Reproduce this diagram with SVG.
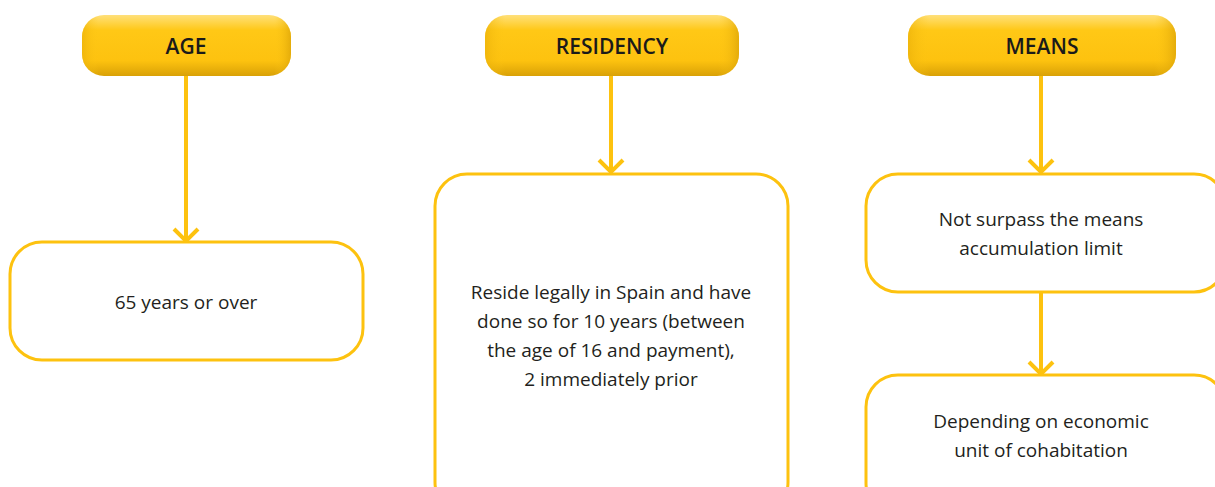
<svg xmlns="http://www.w3.org/2000/svg" width="1215" height="487" viewBox="0 0 1215 487">
<defs>
<linearGradient id="pill" x1="0" y1="0" x2="0" y2="1">
<stop offset="0" stop-color="#FFE07A"/>
<stop offset="0.25" stop-color="#FFC816"/>
<stop offset="0.75" stop-color="#FDC20F"/>
<stop offset="1" stop-color="#D9A107"/>
</linearGradient>
<linearGradient id="pillEdge" x1="0" y1="0" x2="1" y2="0">
<stop offset="0" stop-color="#E8AE08" stop-opacity="0.6"/>
<stop offset="0.08" stop-color="#FFC816" stop-opacity="0"/>
<stop offset="0.92" stop-color="#FFC816" stop-opacity="0"/>
<stop offset="1" stop-color="#D9A107" stop-opacity="0.7"/>
</linearGradient>
<marker id="chev" viewBox="-14 -14 28 28" markerWidth="28" markerHeight="28" refX="0" refY="0" orient="auto" markerUnits="userSpaceOnUse">
<polyline points="-12,-12 0,0 -12,12" fill="none" stroke="#FDC20F" stroke-width="4"/>
</marker>
</defs>
<style>
.pill{fill:url(#pill)}
.edge{fill:url(#pillEdge)}
.hd{font-family:"Open Sans","Noto Sans",sans-serif;font-size:21px;font-weight:600;fill:#1a1a1a;text-anchor:middle}
.box{fill:#fff;stroke:#FDC20F;stroke-width:3}
.tx{font-family:"Open Sans","Noto Sans",sans-serif;font-size:19px;fill:#231f20;text-anchor:middle}
.ln{stroke:#FDC20F;stroke-width:4;fill:none}
</style>
<rect width="1215" height="487" fill="#fff"/>
<g id="connectors">
<line class="ln" x1="186" y1="76" x2="186" y2="241" marker-end="url(#chev)"/>
<line class="ln" x1="611" y1="76" x2="611" y2="172" marker-end="url(#chev)"/>
<line class="ln" x1="1041" y1="76" x2="1041" y2="172" marker-end="url(#chev)"/>
<line class="ln" x1="1041" y1="292" x2="1041" y2="374" marker-end="url(#chev)"/>
</g>
<g id="age-header">
<rect class="pill" x="82" y="15" width="209" height="61" rx="22"/>
<rect class="edge" x="82" y="15" width="209" height="61" rx="22"/>
<text class="hd" x="186" y="54">AGE</text>
</g>
<g id="residency-header">
<rect class="pill" x="485" y="15" width="254" height="61" rx="22"/>
<rect class="edge" x="485" y="15" width="254" height="61" rx="22"/>
<text class="hd" x="612" y="54">RESIDENCY</text>
</g>
<g id="means-header">
<rect class="pill" x="908" y="15" width="268" height="61" rx="22"/>
<rect class="edge" x="908" y="15" width="268" height="61" rx="22"/>
<text class="hd" x="1042" y="54">MEANS</text>
</g>
<g id="age-box">
<rect class="box" x="10" y="242" width="353" height="118" rx="32"/>
<text class="tx" x="186" y="309">65 years or over</text>
</g>
<g id="residency-box">
<rect class="box" x="435" y="174" width="353" height="340" rx="32"/>
<text class="tx" x="611" y="299">Reside legally in Spain and have</text>
<text class="tx" x="611" y="328">done so for 10 years (between</text>
<text class="tx" x="611" y="357">the age of 16 and payment),</text>
<text class="tx" x="611" y="386">2 immediately prior</text>
</g>
<g id="means-box-1">
<rect class="box" x="866" y="174" width="360" height="118" rx="32"/>
<text class="tx" x="1041" y="226">Not surpass the means</text>
<text class="tx" x="1041" y="255">accumulation limit</text>
</g>
<g id="means-box-2">
<rect class="box" x="866" y="375" width="360" height="140" rx="32"/>
<text class="tx" x="1041" y="428">Depending on economic</text>
<text class="tx" x="1041" y="457">unit of cohabitation</text>
</g>
</svg>
